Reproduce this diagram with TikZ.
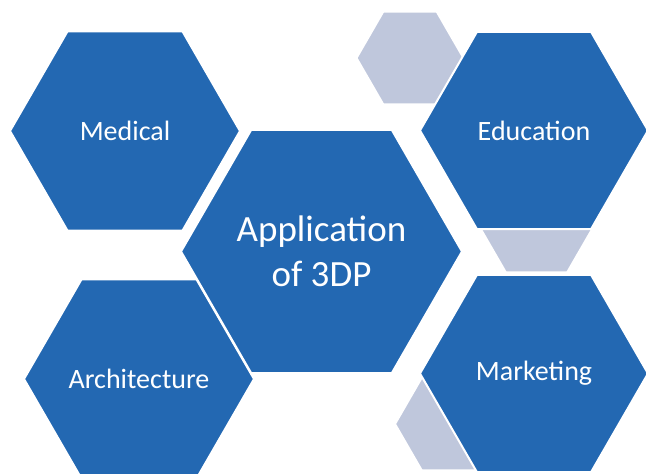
\documentclass[tikz,border=0pt]{standalone}
\usepackage{fontspec}
\setmainfont{Carlito}
\usetikzlibrary{shapes.geometric}
\definecolor{hexblue}{HTML}{2368B2}
\definecolor{hexgrey}{HTML}{BFC7DC}
\begin{document}
\begin{tikzpicture}[x=1pt,y=-1pt,
  hexbase/.style={regular polygon, regular polygon sides=6, inner sep=0pt,
    outer sep=0pt, draw=white, line width=2pt},
  bighex/.style={hexbase, fill=hexblue, text=white,
    font=\fontsize{28}{34}\selectfont},
  centrehex/.style={hexbase, fill=hexblue, text=white, align=center,
    font=\fontsize{37}{45}\selectfont},
  smallhex/.style={hexbase, fill=hexgrey}]
\useasboundingbox (0,0) rectangle (646,474);
\clip (0,0) rectangle (646,474);
% grey accent hexagons, partly hidden behind the blue ones
\node[smallhex, minimum size=107pt] (g1) at (410,58) {};
\node[smallhex, minimum size=123pt] (g2) at (536.5,219) {};
\node[smallhex, minimum size=107pt] (g3) at (448.5,424) {};
% blue hexagons
\node[bighex, minimum size=230pt] (med) at (125,131) {Medical};
\node[bighex, minimum size=228pt] (edu) at (534,130.5) {Education};
\node[bighex, minimum size=228pt] (mkt) at (534,373.5) {Marketing};
\node[bighex, minimum size=230pt] (arch) at (139,379) {Architecture};
\node[centrehex, minimum size=281pt] (app) at (321.5,251.5) {Application\\of 3DP};
\end{tikzpicture}
\end{document}
